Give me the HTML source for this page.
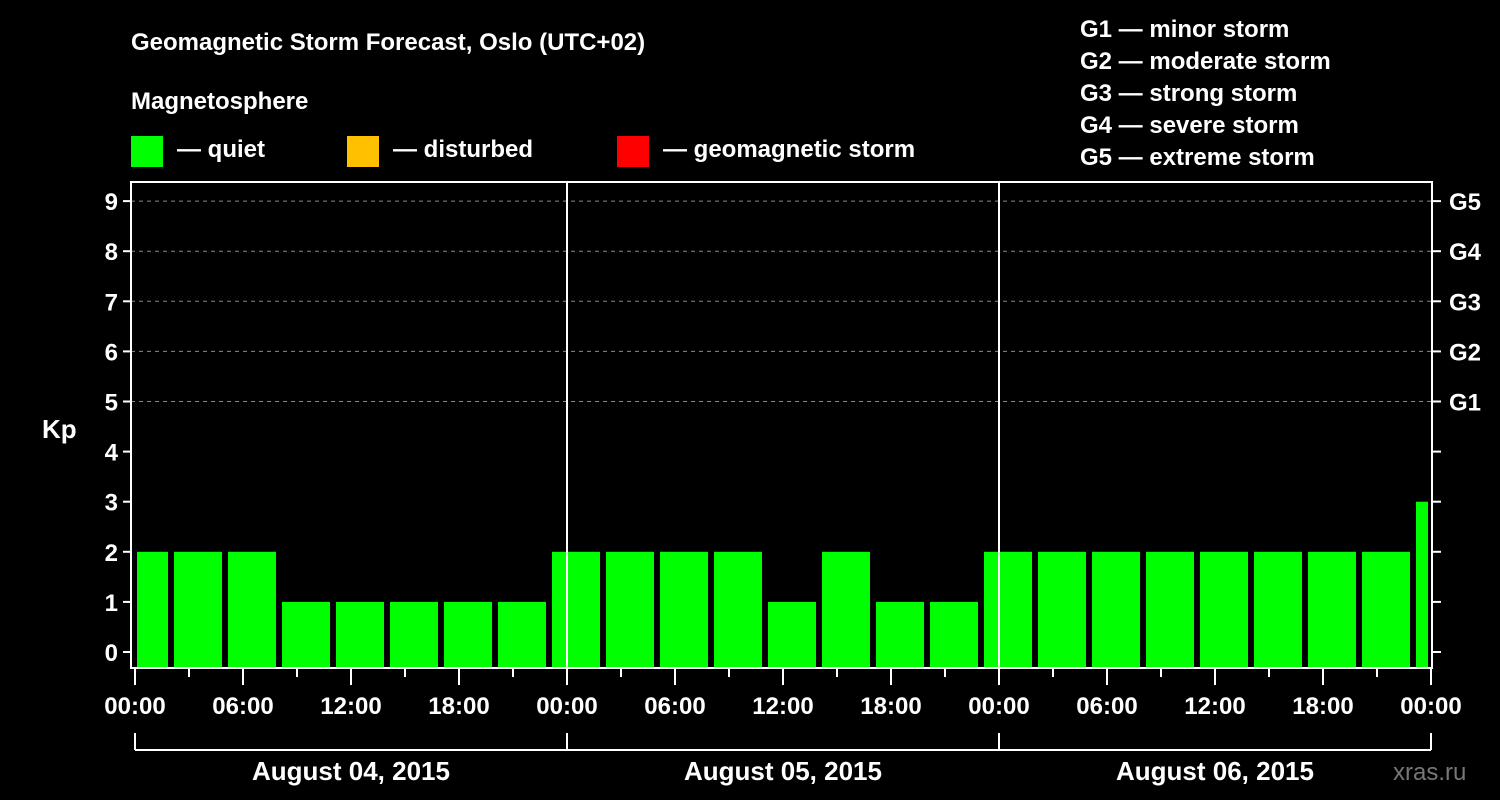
<!DOCTYPE html>
<html><head><meta charset="utf-8"><style>
html,body{margin:0;padding:0;background:#000;}
svg{display:block;font-family:"Liberation Sans",sans-serif;font-weight:bold;}
</style></head><body>
<svg id="chart" width="1500" height="800" viewBox="0 0 1500 800">
<rect width="1500" height="800" fill="#000"/>
<text x="131" y="50" fill="#fff" font-size="24">Geomagnetic Storm Forecast, Oslo (UTC+02)</text>
<text x="131" y="109" fill="#fff" font-size="24">Magnetosphere</text>
<g><rect x="131" y="136" width="32" height="31" fill="#00ff00"/><text x="177" y="157" fill="#fff" font-size="24">— quiet</text></g>
<g><rect x="347" y="136" width="32" height="31" fill="#ffc000"/><text x="393" y="157" fill="#fff" font-size="24">— disturbed</text></g>
<g><rect x="617" y="136" width="32" height="31" fill="#ff0000"/><text x="663" y="157" fill="#fff" font-size="24">— geomagnetic storm</text></g>
<g fill="#fff" font-size="24">
<text x="1080" y="37">G1 — minor storm</text>
<text x="1080" y="69">G2 — moderate storm</text>
<text x="1080" y="101">G3 — strong storm</text>
<text x="1080" y="133">G4 — severe storm</text>
<text x="1080" y="165">G5 — extreme storm</text>
</g>
<text x="42" y="438" fill="#fff" font-size="26">Kp</text>
<text x="1393" y="780" fill="#777" font-size="24" font-weight="normal">xras.ru</text>
<g id="grid"></g>
<g id="bars"></g>
<g id="axes"></g>
</svg>
<script>
const kpValues = [2,2,2,1,1,1,1,1,2,2,2,2,1,2,1,1,2,2,2,2,2,2,2,2,3];
const binStartHour = -1; // local hour of first 3h bin start
const dayLabels = ["August 04, 2015","August 05, 2015","August 06, 2015"];
const hourLabels = ["00:00","06:00","12:00","18:00"];
const gLabels = ["G1","G2","G3","G4","G5"];
const yTicks = [0,1,2,3,4,5,6,7,8,9];

const NS="http://www.w3.org/2000/svg";
const X0=135, PX_H=18, TOTAL_H=72;
const PL=131, PR=1432, PT=182, PB=668;
function x(h){return X0+h*PX_H;}
function y(v){return 652-v*50.1;}
function mk(tag,attrs,parent){const e=document.createElementNS(NS,tag);for(const k in attrs)e.setAttribute(k,attrs[k]);parent.appendChild(e);return e;}
const grid=document.getElementById('grid'), bars=document.getElementById('bars'), axes=document.getElementById('axes');

// gridlines
for(let v=5;v<=9;v++){
  const l=mk('line',{x1:PL,x2:PR,y1:y(v),y2:y(v),stroke:'#888','stroke-dasharray':'4,4','stroke-width':1},grid);
  
  
}
// bars
kpValues.forEach((v,i)=>{
  let a=x(binStartHour+3*i)+3, b=x(binStartHour+3*i+3)-3;
  a=Math.max(a,X0+2); b=Math.min(b,x(TOTAL_H)-3);
  const col=v>=5?'#ff0000':(v>=4?'#ffc000':'#00ff00');
  const r=mk('rect',{x:a,y:y(v),width:b-a,height:PB-y(v),fill:col},bars);
  
  
});
// day separators
for(let d=1;d<3;d++){
  const l=mk('line',{x1:x(24*d),x2:x(24*d),y1:PT,y2:PB,stroke:'#fff','stroke-width':2},axes);
  
  
}
// frame
const fr=mk('rect',{x:PL,y:PT,width:PR-PL,height:PB-PT,fill:'none',stroke:'#fff','stroke-width':2},axes);


// y ticks
yTicks.forEach(v=>{
  mk('line',{x1:PL-8,x2:PL,y1:y(v),y2:y(v),stroke:'#fff','stroke-width':2},axes);
  mk('line',{x1:PR,x2:PR+9,y1:y(v),y2:y(v),stroke:'#fff','stroke-width':2},axes);
  const t=mk('text',{x:PL-13,y:y(v)+9,fill:'#fff','font-size':24,'text-anchor':'end'},axes);
  t.textContent=v;
  
  
});
gLabels.forEach((g,i)=>{
  const t=mk('text',{x:PR+17,y:y(5+i)+9,fill:'#fff','font-size':24},axes);
  t.textContent=g;
  
  
});
// x ticks
for(let h=0;h<=TOTAL_H;h+=3){
  const major=h%6===0;
  mk('line',{x1:x(h),x2:x(h),y1:PB,y2:major?685:677,stroke:'#fff','stroke-width':2},axes);
  if(major){
    const t=mk('text',{x:x(h),y:714,fill:'#fff','font-size':24,'text-anchor':'middle'},axes);
    t.textContent=hourLabels[(h/6)%4];
    
    
  }
}
// day brackets
dayLabels.forEach((d,i)=>{
  const a=x(24*i), b=x(24*i+24);
  mk('line',{x1:a,x2:a,y1:733,y2:750,stroke:'#fff','stroke-width':2},axes);
  mk('line',{x1:a,x2:b,y1:750,y2:750,stroke:'#fff','stroke-width':2},axes);
  if(i===dayLabels.length-1) mk('line',{x1:b,x2:b,y1:733,y2:750,stroke:'#fff','stroke-width':2},axes);
  const t=mk('text',{x:(a+b)/2,y:780,fill:'#fff','font-size':26,'text-anchor':'middle'},axes);
  t.textContent=d;
  
  
});
</script>
</body></html>
